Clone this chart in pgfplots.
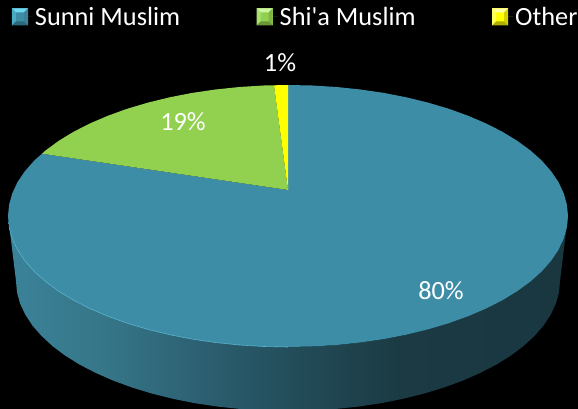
\documentclass[border=0pt]{standalone}
\usepackage{pgfplots}
\pgfplotsset{compat=1.18}
\usepackage{fontspec}
\setmainfont{Carlito}
\definecolor{pieblue}{HTML}{3E8DA6}
\definecolor{piegreen}{HTML}{92D050}
\definecolor{pieyellow}{HTML}{FFFF00}
\definecolor{rimlight}{HTML}{5AB5D0}
\definecolor{s0}{HTML}{3B8299}
\definecolor{s1}{HTML}{367789}
\definecolor{s2}{HTML}{2C6072}
\definecolor{s3}{HTML}{234D5A}
\definecolor{s4}{HTML}{1B3A43}
\definecolor{s5}{HTML}{1A3740}
\definecolor{bt}{RGB}{110,215,240}
\definecolor{bl}{RGB}{75,170,195}
\definecolor{br}{RGB}{60,130,155}
\definecolor{bb}{RGB}{45,105,125}
\definecolor{gt}{RGB}{205,245,160}
\definecolor{gl}{RGB}{170,225,110}
\definecolor{gr}{RGB}{125,180,70}
\definecolor{gb}{RGB}{105,150,55}
\definecolor{yt}{RGB}{255,255,170}
\definecolor{yl}{RGB}{255,255,90}
\definecolor{yr}{RGB}{210,210,0}
\definecolor{yb}{RGB}{175,175,0}
\pgfdeclarehorizontalshading{sideshade}{100bp}{%
 color(0bp)=(s0); color(25bp)=(s0); color(33.2bp)=(s1); color(42.1bp)=(s2);
 color(50.2bp)=(s3); color(60bp)=(s4); color(75bp)=(s5); color(100bp)=(s5)}
\newcommand{\swatch}[5]{%
 \path (0pt,0pt) -- (21pt,0pt);
 \fill[#1] (0pt,-8.5pt) rectangle (16pt,8.5pt);
 \fill[#2] (0pt,8.5pt) -- (16pt,8.5pt) -- (12pt,4.5pt) -- (4pt,4.5pt) -- cycle;
 \fill[#3] (0pt,8.5pt) -- (0pt,-8.5pt) -- (4pt,-4.5pt) -- (4pt,4.5pt) -- cycle;
 \fill[#4] (16pt,8.5pt) -- (16pt,-8.5pt) -- (12pt,-4.5pt) -- (12pt,4.5pt) -- cycle;
 \fill[#5] (0pt,-8.5pt) -- (16pt,-8.5pt) -- (12pt,-4.5pt) -- (4pt,-4.5pt) -- cycle;
}
\begin{document}
\begin{tikzpicture}
\path[use as bounding box] (0,0) rectangle (578pt,409pt);
\fill[black] (0,0) rectangle (578pt,409pt);
\begin{axis}[
  at={(0,0)}, anchor=south west,
  width=578pt, height=409pt, scale only axis,
  xmin=0, xmax=578, ymin=0, ymax=409, y dir=reverse,
  hide axis, clip=true,
  legend columns=3,
  legend cell align=left,
  legend style={at={(axis cs:12,17)}, anchor=west, draw=none, fill=none,
    text=white, inner sep=0pt, outer sep=0pt,
    font=\fontsize{26.3}{30}\selectfont,
    /tikz/every even column/.append style={column sep=74.5pt}},
]
% side wall
\addplot[draw=none, shading=sideshade, forget plot] coordinates {
(8,216)(9.1,227.4)(12.3,238.7)(17.5,249.9)(24.9,260.8)(34.2,271.4)(45.5,281.5)(58.6,291.1)(73.5,300.2)(90,308.6)(108,316.3)(127.4,323.3)(148,329.4)(169.7,334.7)(192.2,339.1)(215.5,342.5)(239.4,345)(263.6,346.5)(288,347)
(312.4,346.5)(336.6,345)(360.5,342.5)(383.8,339.1)(406.3,334.7)(428,329.4)(448.6,323.3)(468,316.3)(486,308.6)(502.5,300.2)(517.4,291.1)(530.5,281.5)(541.8,271.4)(551.1,260.8)(558.5,249.9)(563.7,238.7)(566.9,227.4)(568,216)
(560,281)(559,292.3)(555.9,303.6)(550.7,314.6)(543.6,325.5)(534.5,335.9)(523.6,346)(510.8,355.6)(496.4,364.6)(480.3,372.9)(462.8,380.6)(444,387.5)(424,393.6)(403,398.8)(381,403.2)(358.4,406.6)(335.2,409)(311.7,410.5)(288,411)
(264.3,410.5)(240.8,409)(217.6,406.6)(195,403.2)(173,398.8)(152,393.6)(132,387.5)(113.2,380.6)(95.7,372.9)(79.6,364.6)(65.2,355.6)(52.4,346)(41.5,335.9)(32.4,325.5)(25.3,314.6)(20.1,303.6)(17,292.3)(16,281)
};
% Sunni Muslim 80%
\addplot[draw=none, fill=pieblue,
  legend image code/.code={\swatch{pieblue}{bt}{bl}{br}{bb}}]
 coordinates {
(288,190)(288,85)(312.4,85.5)(336.6,87)(360.5,89.5)(383.8,92.9)(406.3,97.3)(428,102.6)(448.6,108.7)(468,115.7)(486,123.4)(502.5,131.8)(517.4,140.9)(530.5,150.5)(541.8,160.6)(551.1,171.2)(558.5,182.1)(563.7,193.3)(566.9,204.6)(568,216)
(566.9,227.4)(563.7,238.7)(558.5,249.9)(551.1,260.8)(541.8,271.4)(530.5,281.5)(517.4,291.1)(502.5,300.2)(486,308.6)(468,316.3)(448.6,323.3)(428,329.4)(406.3,334.7)(383.8,339.1)(360.5,342.5)(336.6,345)(312.4,346.5)(288,347)
(263.6,346.5)(239.4,345)(215.5,342.5)(192.2,339.1)(169.7,334.7)(148,329.4)(127.4,323.3)(108,316.3)(90,308.6)(73.5,300.2)(58.6,291.1)(45.5,281.5)(34.2,271.4)(24.9,260.8)(17.5,249.9)(12.3,238.7)(9.1,227.4)(8,216)
(9.1,204.6)(12.3,193.3)(17.5,182.1)(24.9,171.2)(34.2,160.6)(42,153.7)
};
\addlegendentry{Sunni Muslim}
% Shi'a Muslim 19%
\addplot[draw=none, fill=piegreen,
  legend image code/.code={\swatch{piegreen}{gt}{gl}{gr}{gb}}]
 coordinates {
(288,190)(42,153.7)(45.5,150.5)(58.6,140.9)(73.5,131.8)(90,123.4)(108,115.7)(127.4,108.7)(148,102.6)(169.7,97.3)(192.2,92.9)(215.5,89.5)(239.4,87)(263.6,85.5)(274,85.3)
};
\addlegendentry{Shi\textquotesingle a Muslim}
% Other 1%
\addplot[draw=none, fill=pieyellow,
  legend image code/.code={\swatch{pieyellow}{yt}{yl}{yr}{yb}}]
 coordinates {(288,190)(274,85.3)(288,85)};
\addlegendentry{Other}
% rim highlight
\addplot[rimlight, line width=0.6pt, forget plot] coordinates {
(9.1,227.4)(12.3,238.7)(17.5,249.9)(24.9,260.8)(34.2,271.4)(45.5,281.5)(58.6,291.1)(73.5,300.2)(90,308.6)(108,316.3)(127.4,323.3)(148,329.4)(169.7,334.7)(192.2,339.1)(215.5,342.5)(239.4,345)(263.6,346.5)(288,347)
};
\node[text=white, font=\fontsize{26.3}{30}\selectfont] at (axis cs:441,290.5) {80\%};
\node[text=white, font=\fontsize{26.3}{30}\selectfont] at (axis cs:183,122) {19\%};
\node[text=white, font=\fontsize{26.3}{30}\selectfont] at (axis cs:280,63) {1\%};
\end{axis}
\end{tikzpicture}
\end{document}
